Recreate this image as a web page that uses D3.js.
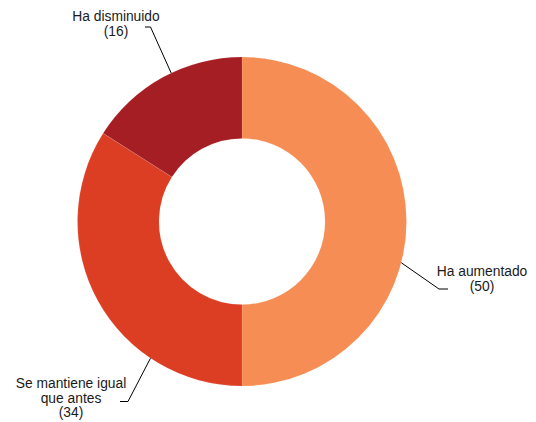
<!DOCTYPE html>
<html>
<head>
<meta charset="utf-8">
<script src="https://cdn.jsdelivr.net/npm/d3@7"></script>
<style>
  html, body { margin: 0; padding: 0; background: #fff; }
  svg { display: block; }
  text { font-family: "Liberation Sans", Arial, Helvetica, sans-serif; font-size: 13.8px; fill: #1a1a1a; }
</style>
</head>
<body>
<svg id="chart" width="536" height="422"></svg>
<script>
// Survey answers, drawn clockwise from 12 o'clock
const categories = ["Ha aumentado", "Se mantiene igual que antes", "Ha disminuido"];
const values = [50, 34, 16];
const colors = ["#F68D54", "#DC3E23", "#A51E23"];
// Label text lines (value appended in parentheses)
const labelLines = [["Ha aumentado"], ["Se mantiene igual", "que antes"], ["Ha disminuido"]];

const width = 536, height = 422;
const cx = 242, cy = 221.5;
const outerR = 164.5, innerR = 83;

const svg = d3.select("#chart");
const g = svg.append("g").attr("transform", `translate(${cx},${cy})`);

const pie = d3.pie().sort(null).value(d => d)(values);
const arc = d3.arc().innerRadius(innerR).outerRadius(outerR);

g.selectAll("path.slice")
  .data(pie)
  .join("path")
  .attr("class", "slice")
  .attr("d", arc)
  .attr("fill", (d, i) => colors[i])
  .attr("stroke", "#fff")
  .attr("stroke-opacity", 0.35)
  .attr("stroke-width", 0.3);

// Leader line layout: where each line touches the ring (degrees clockwise from top),
// elbow point, end of the short horizontal run, and the label anchor.
const leaders = [
  { touch: 104.5, elbow: [439, 289], end: [448, 289], label: [482, 276] },
  { touch: 213.8, elbow: [128, 401.5], end: [120, 401.5], label: [71, 388] },
  { touch: 334.5, elbow: [150.5, 27], end: [145, 27], label: [116, 21] }
];
const lineH = 14.6;

const ann = svg.append("g");
leaders.forEach((L, i) => {
  const a = L.touch * Math.PI / 180;
  const px = cx + outerR * Math.sin(a);
  const py = cy - outerR * Math.cos(a);
  ann.append("path")
    .attr("d", d3.line()([[px, py], L.elbow, L.end]))
    .attr("fill", "none")
    .attr("stroke", "#000")
    .attr("stroke-width", 1);
  const lines = labelLines[i].concat([`(${values[i]})`]);
  const t = ann.append("text")
    .attr("text-anchor", "middle")
    .attr("x", L.label[0])
    .attr("y", L.label[1]);
  lines.forEach((s, k) => {
    t.append("tspan")
      .attr("x", L.label[0])
      .attr("dy", k === 0 ? 0 : lineH)
      .text(s);
  });
});
</script>
</body>
</html>
